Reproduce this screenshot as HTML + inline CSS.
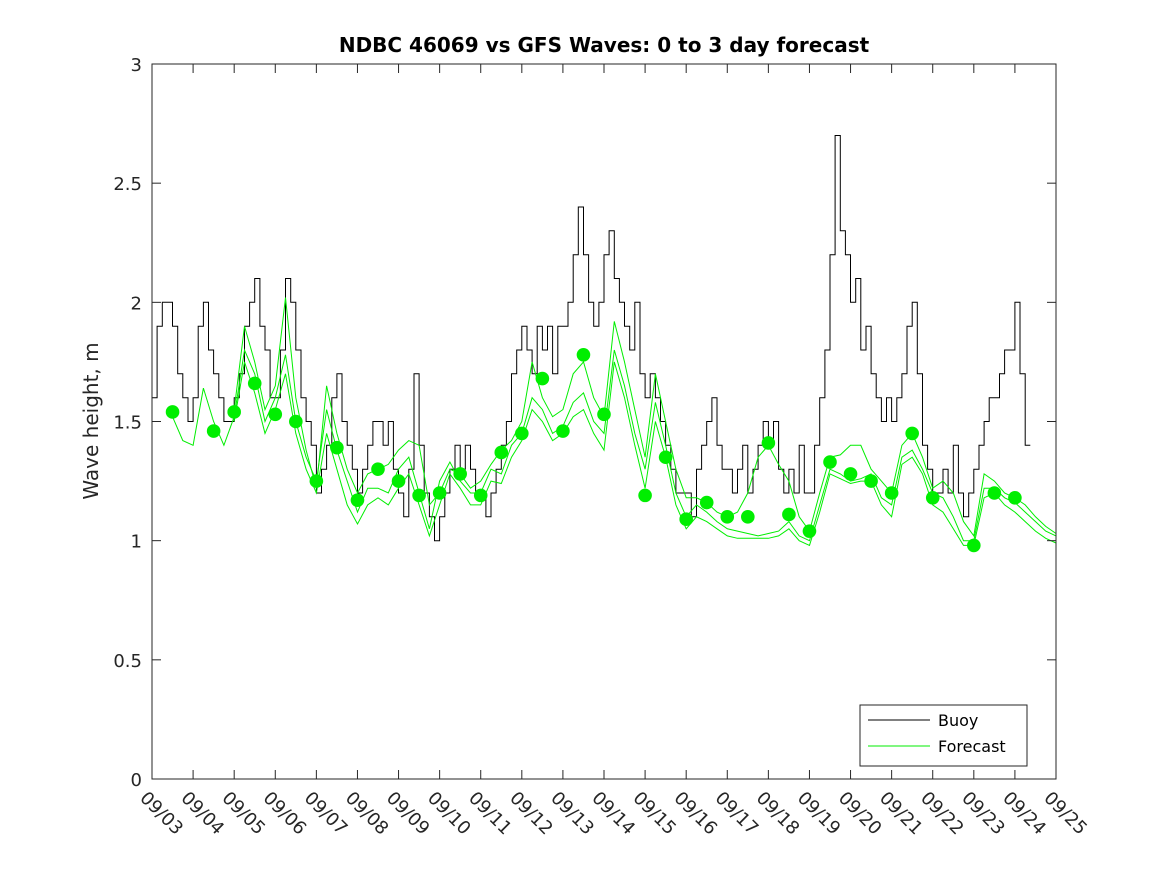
<!DOCTYPE html>
<html><head><meta charset="utf-8"><style>
html,body{margin:0;padding:0;background:#fff;}
svg{display:block;font-family:"DejaVu Sans","Liberation Sans",sans-serif;}
</style></head><body>
<svg id="chart" width="1167" height="875" viewBox="0 0 1167 875" xmlns="http://www.w3.org/2000/svg">
<rect width="1167" height="875" fill="#fff"/>
<text x="604" y="52" text-anchor="middle" font-size="20" font-weight="bold" fill="#000">NDBC 46069 vs GFS Waves: 0 to 3 day forecast</text>
<text transform="translate(98,421) rotate(-90)" text-anchor="middle" font-size="20" fill="#262626">Wave height, m</text>
<g id="plot"></g>
<g id="axes"></g>
<g>
<rect x="860" y="705" width="167" height="61" fill="#fff" stroke="#262626" stroke-width="1"/>
<line x1="868" y1="720" x2="930" y2="720" stroke="#000" stroke-width="1"/>
<text x="938" y="726" font-size="16" fill="#000">Buoy</text>
<line x1="868" y1="746" x2="930" y2="746" stroke="#00ee00" stroke-width="1"/>
<text x="938" y="752" font-size="16" fill="#000">Forecast</text>
</g>
</svg>
<script>
const xTickLabels = ["09/03","09/04","09/05","09/06","09/07","09/08","09/09","09/10","09/11","09/12","09/13","09/14","09/15","09/16","09/17","09/18","09/19","09/20","09/21","09/22","09/23","09/24","09/25"];
const yTickValues = [0,0.5,1,1.5,2,2.5,3];
const yTickLabels = ["0","0.5","1","1.5","2","2.5","3"];
// buoy: 3-hourly values starting 09/03 00:00
const buoyValues = [
1.6,1.9,2.0,2.0,1.9,1.7,1.6,1.5,
1.6,1.9,2.0,1.8,1.7,1.6,1.5,1.5,
1.6,1.7,1.9,2.0,2.1,1.9,1.8,1.6,
1.6,1.8,2.1,2.0,1.8,1.6,1.5,1.4,
1.2,1.3,1.4,1.6,1.7,1.5,1.4,1.3,
1.2,1.3,1.4,1.5,1.5,1.4,1.5,1.3,
1.2,1.1,1.3,1.7,1.4,1.2,1.1,1.0,
1.1,1.2,1.3,1.4,1.3,1.4,1.3,1.2,
1.2,1.1,1.2,1.3,1.4,1.5,1.7,1.8,
1.9,1.8,1.7,1.9,1.8,1.9,1.7,1.9,
1.9,2.0,2.2,2.4,2.2,2.0,1.9,2.0,
2.2,2.3,2.1,2.0,1.9,1.8,2.0,1.7,
1.6,1.7,1.6,1.5,1.4,1.3,1.2,1.2,
1.2,1.1,1.3,1.4,1.5,1.6,1.4,1.3,
1.3,1.2,1.3,1.4,1.2,1.3,1.4,1.5,
1.4,1.5,1.3,1.2,1.3,1.2,1.4,1.2,
1.2,1.4,1.6,1.8,2.2,2.7,2.3,2.2,
2.0,2.1,1.8,1.9,1.7,1.6,1.5,1.6,
1.5,1.6,1.7,1.9,2.0,1.7,1.4,1.3,
1.2,1.2,1.3,1.2,1.4,1.2,1.1,1.2,
1.3,1.4,1.5,1.6,1.6,1.7,1.8,1.8,
2.0,1.7,1.4];
// forecast dots: 12-hourly starting 09/03 12:00
const dotValues = [1.54,null,1.46,1.54,1.66,1.53,1.50,1.25,1.39,1.17,1.30,1.25,1.19,1.20,1.28,1.19,1.37,1.45,1.68,1.46,1.78,1.53,null,1.19,1.35,1.09,1.16,1.10,1.10,1.41,1.11,1.04,1.33,1.28,1.25,1.20,1.45,1.18,null,0.98,1.20,1.18];
// forecast lines: 6-hourly starting 09/03 12:00
const forecastA = [1.52,1.42,
1.40,1.64,1.50,1.40, 1.52,1.80,1.70,1.50, 1.60,1.78,1.50,1.35, 1.25,1.55,1.38,1.25,
1.12,1.22,1.22,1.20, 1.30,1.35,1.20,1.05, 1.25,1.33,1.25,1.20, 1.20,1.30,1.28,1.40,
1.45,1.60,1.55,1.45, 1.48,1.58,1.62,1.50, 1.45,1.80,1.65,1.45, 1.30,1.58,1.40,1.20,
1.10,1.15,1.12,1.08, 1.05,1.04,1.03,1.02, 1.03,1.04,1.08,1.02, 1.00,1.15,1.30,1.28,
1.25,1.26,1.28,1.18, 1.15,1.35,1.38,1.30, 1.20,1.18,1.10,1.00, 1.00,1.22,1.22,1.18,
1.16,1.12,1.08,1.04, 1.02];
const forecastB = [null,null,
null,null,null,null, 1.55,1.90,1.75,1.55, 1.65,2.02,1.60,1.38, 1.22,1.65,1.45,1.30,
1.20,1.28,1.30,1.32, 1.38,1.42,1.40,1.15, 1.20,1.30,1.28,1.22, 1.25,1.32,1.38,1.42,
1.50,1.75,1.60,1.52, 1.55,1.70,1.75,1.60, 1.52,1.92,1.75,1.55, 1.35,1.70,1.50,1.30,
1.18,1.18,1.16,1.12, 1.10,1.12,1.20,1.35, 1.40,1.32,1.25,1.10, 1.04,1.20,1.35,1.36,
1.40,1.40,1.30,1.25, 1.20,1.40,1.45,1.35, 1.22,1.25,1.20,1.08, 1.02,1.28,1.25,1.20,
1.18,1.15,1.10,1.06, 1.03];
const forecastC = [null,null,
null,null,null,null, 1.50,1.75,1.62,1.45, 1.55,1.70,1.45,1.30, 1.20,1.45,1.30,1.15,
1.07,1.15,1.18,1.15, 1.22,1.28,1.15,1.02, 1.15,1.28,1.22,1.15, 1.15,1.25,1.24,1.35,
1.42,1.55,1.50,1.42, 1.45,1.52,1.55,1.45, 1.38,1.75,1.60,1.40, 1.22,1.50,1.35,1.15,
1.05,1.10,1.08,1.05, 1.02,1.01,1.01,1.01, 1.01,1.02,1.05,1.00, 0.98,1.12,1.28,1.26,
1.24,1.25,1.25,1.15, 1.10,1.32,1.35,1.28, 1.15,1.12,1.05,0.98, 0.98,1.18,1.20,1.15,
1.12,1.08,1.04,1.01, 0.99];

const L=152,R=1056,T=64,B=779,NS="http://www.w3.org/2000/svg";
const xScale=d=>L+(R-L)*d/22;
const yScale=v=>B-(B-T)*v/3;
function mk(tag,attrs,parent){const e=document.createElementNS(NS,tag);for(const k in attrs)e.setAttribute(k,attrs[k]);parent.appendChild(e);return e;}
const plot=document.getElementById('plot'),axes=document.getElementById('axes');

let d="";
buoyValues.forEach((v,i)=>{const x0=xScale(i/8),y=yScale(v);d+=(i?"L":"M")+x0.toFixed(1)+","+y.toFixed(1)+"L"+xScale((i+1)/8).toFixed(1)+","+y.toFixed(1);});
const bl=mk('path',{d:d,fill:'none',stroke:'#000','stroke-width':1},plot);



function lineFrom(arr,name){let p="",pen=false;arr.forEach((v,i)=>{if(v==null){pen=false;return;}p+=(pen?"L":"M")+xScale(0.5+i*0.25).toFixed(1)+","+yScale(v).toFixed(1);pen=true;});
const e=mk('path',{d:p,fill:'none',stroke:'#00ee00','stroke-width':1},plot);

}
lineFrom(forecastA,'forecast-line-a');
lineFrom(forecastB,'forecast-line-b');
lineFrom(forecastC,'forecast-line-c');

dotValues.forEach((v,i)=>{if(v==null)return;
const c=mk('circle',{cx:xScale(0.5+i*0.5),cy:yScale(v),r:6.8,fill:'#00ee00'},plot);

});

const box=mk('rect',{x:L,y:T,width:R-L,height:B-T,fill:'none',stroke:'#262626','stroke-width':1},axes);


yTickValues.forEach((v,i)=>{const y=yScale(v);
mk('line',{x1:L,y1:y,x2:L+9,y2:y,stroke:'#262626'},axes);
mk('line',{x1:R,y1:y,x2:R-9,y2:y,stroke:'#262626'},axes);
const t=mk('text',{x:L-10,y:y+7,'text-anchor':'end','font-size':18,fill:'#262626'},axes);


t.textContent=yTickLabels[i];});
xTickLabels.forEach((lab,i)=>{const x=xScale(i);
mk('line',{x1:x,y1:B,x2:x,y2:B-9,stroke:'#262626'},axes);
mk('line',{x1:x,y1:T,x2:x,y2:T+9,stroke:'#262626'},axes);
const t=mk('text',{transform:`translate(${x-13},${B+20}) rotate(45)`,'font-size':18,fill:'#262626'},axes);


t.textContent=lab;});
</script>
</body></html>
